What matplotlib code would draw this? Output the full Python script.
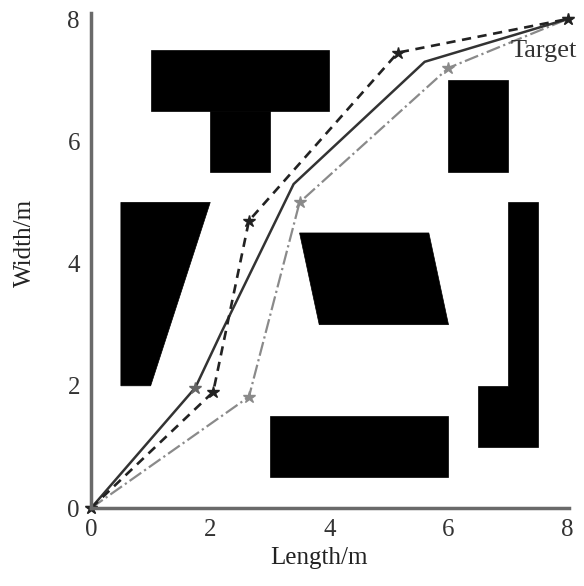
import matplotlib
matplotlib.use("Agg")
import matplotlib.pyplot as plt
from matplotlib.patches import Polygon

# ── obstacles (polygon vertices, metres) ──────────────────────────────
obstacles = [
    [(1, 6.5), (4, 6.5), (4, 7.5), (1, 7.5)],               # T top
    [(2, 5.5), (3, 5.5), (3, 6.5), (2, 6.5)],               # T stem
    [(0.5, 2), (1, 2), (2, 5), (0.5, 5)],                   # left trapezoid
    [(3.83, 3), (6, 3), (5.67, 4.5), (3.5, 4.5)],           # middle parallelogram
    [(3, 0.5), (6, 0.5), (6, 1.5), (3, 1.5)],               # bottom block
    [(6, 5.5), (7, 5.5), (7, 7), (6, 7)],                   # upper right block
    [(6.5, 1), (7.5, 1), (7.5, 5), (7, 5), (7, 2), (6.5, 2)],  # right L
]

# ── paths ─────────────────────────────────────────────────────────────
path_a_x = [0, 1.75, 2.2, 3.4, 5.6, 8]
path_a_y = [0, 1.97, 2.9, 5.3, 7.3, 8]

path_b_x = [0, 2.05, 2.65, 5.15, 8]
path_b_y = [0, 1.9, 4.7, 7.45, 8]

path_c_x = [0, 2.65, 3.5, 6.0, 8]
path_c_y = [0, 1.82, 5.0, 7.2, 8]

ticks = [0, 2, 4, 6, 8]

plt.rcParams["font.family"] = ["Liberation Serif", "DejaVu Serif"]

fig = plt.figure(figsize=(5.84, 5.86), dpi=100)
ax = fig.add_axes([0.156, 0.133, 0.818, 0.845])

for verts in obstacles:
    ax.add_patch(Polygon(verts, closed=True, facecolor="black",
                         edgecolor="black", linewidth=0.5))

ax.plot(path_c_x, path_c_y, color="#8a8a8a", linewidth=1.6,
        linestyle="-.", marker="*", markersize=9, clip_on=False)
ax.plot(path_a_x, path_a_y, color="#333333", linewidth=1.8,
        linestyle="-", clip_on=False)
ax.plot(path_a_x[1:2], path_a_y[1:2], color="#666666", linestyle="none",
        marker="*", markersize=9)
ax.plot(path_b_x, path_b_y, color="#222222", linewidth=1.9,
        linestyle=(0, (3.5, 2.5)), marker="*", markersize=9, clip_on=False)

ax.text(7.05, 7.48, "Target", fontsize=19, color="#333333",
        ha="left", va="center", clip_on=False)

ax.set_xlim(0, 8.02)
ax.set_ylim(0, 8.1)
ax.set_xticks(ticks)
ax.set_yticks(ticks)
ax.tick_params(length=0, labelsize=18, colors="#333333", pad=8)
ax.set_xlabel("Length/m", fontsize=18, color="#222222")
ax.set_ylabel("Width/m", fontsize=18, color="#222222")
ax.xaxis.set_label_coords(0.477, -0.079)
ax.yaxis.set_label_coords(-0.115, 0.535)

for side in ("top", "right"):
    ax.spines[side].set_visible(False)
for side in ("left", "bottom"):
    ax.spines[side].set_color("#6a6a6a")
    ax.spines[side].set_linewidth(2.5)

fig.savefig("out.png", dpi=100)
